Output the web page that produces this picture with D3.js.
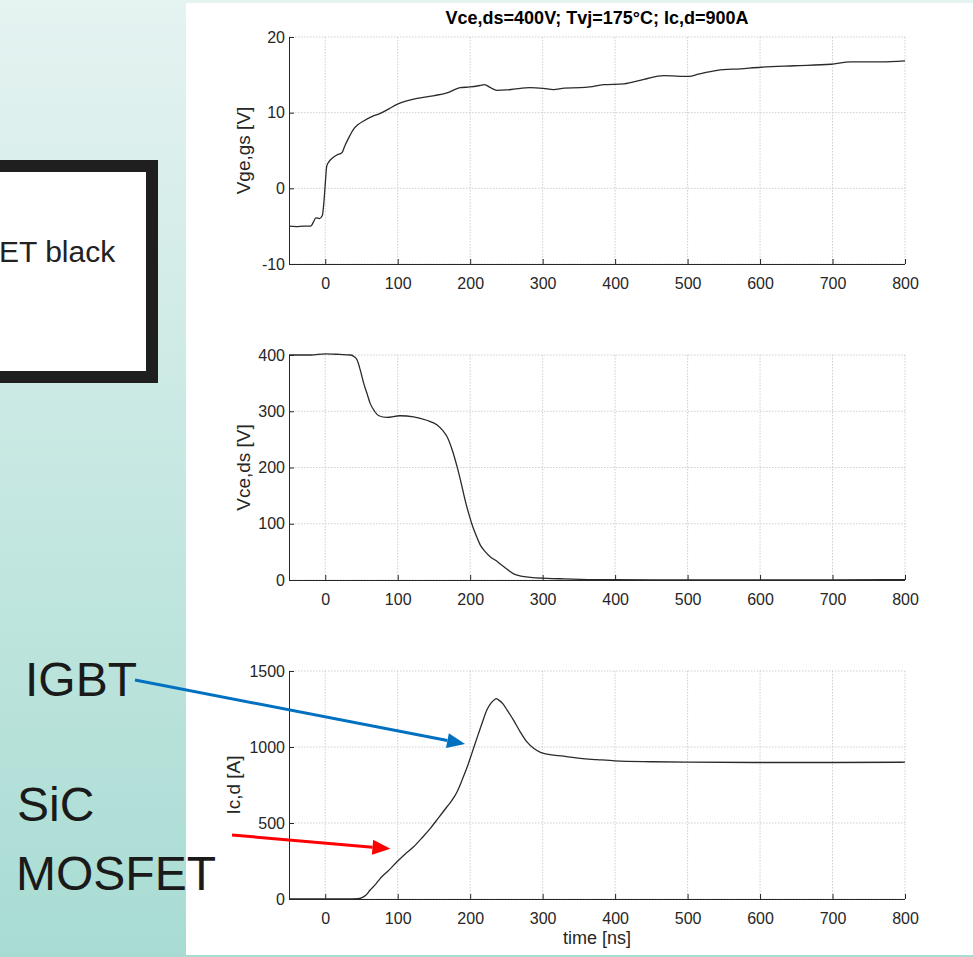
<!DOCTYPE html>
<html lang="en">
<head>
<meta charset="UTF-8">
<title>Switching waveforms</title>
<script src="https://d3js.org/d3.v7.min.js"></script>
<style>
    body, html { margin: 0; padding: 0; overflow: hidden; }
    svg { display: block; font-family: "Liberation Sans", Arial, sans-serif; }
    .tick text { fill: #262626; font-size: 16px; }
    .axis path, .axis line { stroke: #262626; }
    .grid line { stroke: #cfcfcf; stroke-dasharray: 1.5,1.5; }
</style>
</head>
<body>
<svg id="chart"></svg>
<script>
    const width = 973;
    const height = 957;

    // time axis, ns
    const xTicks = [0, 100, 200, 300, 400, 500, 600, 700, 800];

    // gate voltage Vge,gs [V]
    const vgeTime = [-50, -40, -30, -20, -16, -13, -8, -4, -2, 0, 2, 5, 10, 16, 23, 27, 32, 39, 45, 53, 65, 76, 88, 99, 110, 122, 140, 168, 186, 200, 214, 220, 228, 237, 250, 260, 283, 301, 315, 330, 352, 365, 384, 412, 440, 467, 490, 502, 515, 541, 573, 601, 647, 698, 725, 767, 800];
    const vgeValues = [-5.0, -5.05, -5.0, -5.0, -4.4, -3.9, -4.0, -3.6, -2.0, 0.5, 2.9, 3.5, 4.0, 4.4, 4.7, 5.6, 6.6, 7.8, 8.4, 8.9, 9.5, 9.9, 10.5, 11.1, 11.5, 11.8, 12.1, 12.6, 13.3, 13.4, 13.6, 13.7, 13.3, 12.95, 13.0, 13.1, 13.3, 13.2, 13.05, 13.25, 13.3, 13.4, 13.7, 13.8, 14.4, 14.9, 14.8, 14.8, 15.1, 15.6, 15.8, 16.0, 16.2, 16.4, 16.7, 16.7, 16.85];
    const vgeTicks = [-10, 0, 10, 20];

    // collector-emitter / drain-source voltage Vce,ds [V]
    const vceTime = [-50, -20, 0, 20, 35, 40, 44, 48, 53, 58, 62, 68, 74, 85, 103, 122, 140, 154, 162, 168, 175, 182, 188, 193, 198, 203, 208, 214, 221, 228, 235, 242, 250, 260, 270, 283, 306, 330, 352, 400, 500, 600, 700, 800];
    const vceValues = [400, 400, 402, 401, 400, 397, 391, 375, 350, 330, 314, 300, 292, 289, 292, 290, 284, 276, 266, 255, 232, 201, 170, 142, 118, 97, 80, 62, 50, 41, 35, 28, 20, 11, 7, 4.7, 3, 2, 1.2, 0.5, 0.3, 0.3, 0.3, 0.5];
    const vceTicks = [0, 100, 200, 300, 400];

    // collector / drain current Ic,d [A]
    const icTime = [-50, 0, 30, 45, 50, 56, 62, 70, 76, 88, 99, 110, 122, 134, 145, 156, 168, 175, 182, 189, 196, 203, 210, 217, 223, 229, 233, 236, 239, 245, 251, 260, 269, 278, 288, 297, 306, 329, 352, 375, 400, 450, 500, 600, 700, 800];
    const icValues = [0, 0, 0, 2, 8, 25, 59, 100, 136, 190, 245, 295, 344, 405, 465, 532, 607, 650, 706, 785, 870, 968, 1068, 1165, 1243, 1290, 1309, 1318, 1310, 1285, 1243, 1175, 1100, 1035, 990, 965, 953, 940, 925, 917, 909, 903, 900, 898, 898, 900];
    const icTicks = [0, 500, 1000, 1500];

    const svg = d3.select("#chart")
        .attr("width", width)
        .attr("height", height);

    // slide background
    const defs = svg.append("defs");
    const grad = defs.append("linearGradient")
        .attr("id", "bg")
        .attr("x1", 0).attr("y1", 0).attr("x2", 0).attr("y2", 1);
    grad.append("stop").attr("offset", "0%").attr("stop-color", "#e5f3f1");
    grad.append("stop").attr("offset", "100%").attr("stop-color", "#a8dcd3");

    svg.append("rect")
        .attr("width", width).attr("height", height)
        .attr("fill", "url(#bg)");

    svg.append("rect")
        .attr("x", 186).attr("y", 3)
        .attr("width", width - 186).attr("height", 952)
        .attr("fill", "#ffffff");

    // black framed box (cut at left edge)
    svg.append("rect")
        .attr("x", -20).attr("y", 166)
        .attr("width", 172).attr("height", 211)
        .attr("fill", "#ffffff")
        .attr("stroke", "#1f1f1f")
        .attr("stroke-width", 12);

    svg.append("text")
        .attr("x", -1).attr("y", 262)
        .style("font-size", "30px")
        .style("fill", "#222")
        .text("ET black");

    const plotLeft = 289;
    const plotRight = 905;

    const x = d3.scaleLinear()
        .domain([-50, 800])
        .range([plotLeft, plotRight]);

    const panels = [
        { time: vgeTime, values: vgeValues, ticks: vgeTicks, top: 37, bottom: 264, label: "Vge,gs [V]", labelX: 243 },
        { time: vceTime, values: vceValues, ticks: vceTicks, top: 355, bottom: 580, label: "Vce,ds [V]", labelX: 243 },
        { time: icTime, values: icValues, ticks: icTicks, top: 671, bottom: 899, label: "Ic,d [A]", labelX: 233 }
    ];

    const yScales = [];
    const plain = d => String(d);

    panels.forEach(function(p) {
        const y = d3.scaleLinear()
            .domain([p.ticks[0], p.ticks[p.ticks.length - 1]])
            .range([p.bottom, p.top]);
        yScales.push(y);

        const g = svg.append("g");

        // grid
        g.append("g")
            .attr("class", "grid")
            .selectAll("line.v")
            .data(xTicks)
            .join("line")
            .attr("x1", d => x(d)).attr("x2", d => x(d))
            .attr("y1", p.top).attr("y2", p.bottom);

        g.append("g")
            .attr("class", "grid")
            .selectAll("line.h")
            .data(p.ticks)
            .join("line")
            .attr("x1", plotLeft).attr("x2", plotRight)
            .attr("y1", d => y(d)).attr("y2", d => y(d));

        // axes, ticks pointing inward like matlab
        g.append("g")
            .attr("class", "axis")
            .attr("transform", `translate(0,${p.bottom})`)
            .call(d3.axisBottom(x).tickValues(xTicks).tickFormat(plain).tickSizeInner(-5).tickSizeOuter(0).tickPadding(14))
            .call(a => a.select(".domain").attr("d", `M${plotLeft},0.5H${plotRight}`));

        g.append("g")
            .attr("class", "axis")
            .attr("transform", `translate(${plotLeft},0)`)
            .call(d3.axisLeft(y).tickValues(p.ticks).tickFormat(plain).tickSizeInner(-5).tickSizeOuter(0).tickPadding(4))
            .call(a => a.select(".domain").attr("d", `M0.5,${p.top}V${p.bottom}`));

        g.selectAll(".axis text").style("font-family", "Liberation Sans, Arial, sans-serif");

        // y label
        g.append("text")
            .attr("transform", `translate(${p.labelX},${(p.top + p.bottom) / 2}) rotate(-90)`)
            .attr("text-anchor", "middle")
            .attr("dy", "0.35em")
            .style("font-size", "19px")
            .style("fill", "#262626")
            .text(p.label);

        // waveform
        const pts = p.time.map((t, i) => [t, p.values[i]]);
        g.append("path")
            .datum(pts)
            .attr("fill", "none")
            .attr("stroke", "#2a2a2a")
            .attr("stroke-width", 1.3)
            .attr("d", d3.line()
                .x(d => x(d[0]))
                .y(d => y(d[1]))
                .curve(d3.curveMonotoneX));
    });

    // title and x label
    svg.append("text")
        .attr("x", (plotLeft + plotRight) / 2)
        .attr("y", 24)
        .attr("text-anchor", "middle")
        .style("font-size", "18px")
        .style("font-weight", "bold")
        .style("fill", "#000")
        .text("Vce,ds=400V; Tvj=175°C; Ic,d=900A");

    svg.append("text")
        .attr("x", (plotLeft + plotRight) / 2)
        .attr("y", 944)
        .attr("text-anchor", "middle")
        .style("font-size", "18px")
        .style("fill", "#262626")
        .text("time [ns]");

    // annotations on the slide
    const labels = [
        { text: "IGBT", x: 25, y: 696 },
        { text: "SiC", x: 17, y: 821 },
        { text: "MOSFET", x: 16, y: 890 }
    ];
    svg.selectAll("text.note")
        .data(labels)
        .join("text")
        .attr("class", "note")
        .attr("x", d => d.x)
        .attr("y", d => d.y)
        .style("font-size", "48px")
        .style("fill", "#1a1a1a")
        .text(d => d.text);

    const yIc = yScales[2];
    const arrows = [
        { color: "#0070c0", x0: 135, y0: 680, tipT: 193, tipI: 1020 },
        { color: "#ff0000", x0: 232, y0: 835, tipT: 90, tipI: 330 }
    ];

    arrows.forEach(function(a) {
        const x1 = x(a.tipT), y1 = yIc(a.tipI);
        const ang = Math.atan2(y1 - a.y0, x1 - a.x0);
        const len = 18, half = 7.5;
        const bx = x1 - len * Math.cos(ang), by = y1 - len * Math.sin(ang);
        svg.append("line")
            .attr("x1", a.x0).attr("y1", a.y0)
            .attr("x2", bx).attr("y2", by)
            .attr("stroke", a.color)
            .attr("stroke-width", 3);
        svg.append("path")
            .attr("d", `M${x1},${y1}L${bx - half * Math.sin(ang)},${by + half * Math.cos(ang)}L${bx + half * Math.sin(ang)},${by - half * Math.cos(ang)}Z`)
            .attr("fill", a.color);
    });
</script>
</body>
</html>
